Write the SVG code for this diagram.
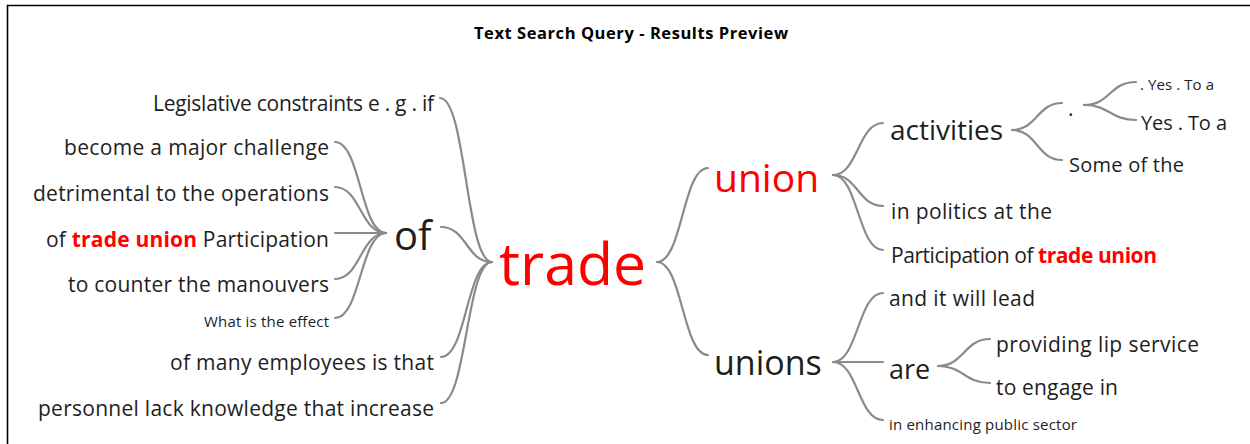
<svg xmlns="http://www.w3.org/2000/svg" width="1250" height="444" viewBox="0 0 1250 444">
  <style>
    text { font-family: "Open Sans", "Noto Sans", "Liberation Sans", sans-serif; fill: #1e1e1e; }
    .t { font-size: 21px; }
    .s { font-size: 15px; }
    .hl { fill: #ff0000; font-weight: bold; }
    .red { fill: #ff0000; }
    .title { font-size: 16.5px; font-weight: bold; fill: #000; }
    #connectors path { fill: none; stroke: #8a8a8a; stroke-width: 2.2; stroke-linecap: round; }
  </style>

  <rect x="0" y="0" width="1250" height="444" fill="#fff"/>
  <!-- frame: top and left edges -->
  <path d="M7.5,444 V5.5 H1250" fill="none" stroke="#000" stroke-width="1.6"/>

  <text class="title" x="631" y="39" text-anchor="middle" textLength="314">Text Search Query - Results Preview</text>

  <!-- connectors -->
  <g id="connectors">
    <!-- into "of" -->
    <path d="M335,142 C360.5,142 360.5,233 386,233"/>
    <path d="M335,187 C360.5,187 360.5,233 386,233"/>
    <path d="M335,233 L386,233"/>
    <path d="M335,279 C360.5,279 360.5,233 386,233"/>
    <path d="M335,318 C360.5,318 360.5,233 386,233"/>
    <!-- into "trade" (left) -->
    <path d="M440,98 C466,98 466,262 492,262"/>
    <path d="M441,227 C466.5,227 466.5,262 492,262"/>
    <path d="M441,357 C466.5,357 466.5,262 492,262"/>
    <path d="M441,403 C466.5,403 466.5,262 492,262"/>
    <!-- out of "trade" (right) -->
    <path d="M657,262 C682.5,262 682.5,168 708,168"/>
    <path d="M657,262 C682.5,262 682.5,355 708,355"/>
    <!-- union -->
    <path d="M833,175 C858,175 858,123 883,123"/>
    <path d="M833,175 C858,175 858,206 883,206"/>
    <path d="M833,175 C858,175 858,250 883,250"/>
    <!-- activities -->
    <path d="M1012,130 C1037,130 1037,103 1062,103"/>
    <path d="M1012,130 C1037,130 1037,160 1062,160"/>
    <!-- "." -->
    <path d="M1084,105 C1110,105 1110,82 1136,82"/>
    <path d="M1084,105 C1110,105 1110,120 1136,120"/>
    <!-- unions -->
    <path d="M833,362 C858,362 858,293 883,293"/>
    <path d="M833,362 L883,362"/>
    <path d="M833,362 C858,362 858,420 883,420"/>
    <!-- are -->
    <path d="M938,366 C964,366 964,339 990,339"/>
    <path d="M938,366 C964,366 964,383 990,383"/>
  </g>

  <!-- root -->
  <g id="node-trade">
    <text class="red" x="499" y="285" font-size="59">trade</text>
  </g>

  <!-- left side -->
  <g id="node-legislative">
    <text class="t" x="434" y="111" text-anchor="end" textLength="281">Legislative constraints e . g . if</text>
  </g>
  <g id="node-of">
    <text x="394" y="250" font-size="40">of</text>
  </g>
  <g id="node-become">
    <text class="t" x="329" y="155" text-anchor="end" textLength="265">become a major challenge</text>
  </g>
  <g id="node-detrimental">
    <text class="t" x="329" y="201" text-anchor="end" textLength="296">detrimental to the operations</text>
  </g>
  <g id="node-participation-left">
    <text class="t" x="329" y="247" text-anchor="end" textLength="283">of <tspan class="hl">trade union</tspan> Participation</text>
  </g>
  <g id="node-counter">
    <text class="t" x="329" y="292" text-anchor="end" textLength="261">to counter the manouvers</text>
  </g>
  <g id="node-effect">
    <text class="s" x="329" y="327" text-anchor="end" textLength="125">What is the effect</text>
  </g>
  <g id="node-employees">
    <text class="t" x="434" y="370" text-anchor="end" textLength="264">of many employees is that</text>
  </g>
  <g id="node-personnel">
    <text class="t" x="434" y="416" text-anchor="end" textLength="396">personnel lack knowledge that increase</text>
  </g>

  <!-- right side -->
  <g id="node-union">
    <text class="red" x="714" y="192" font-size="39">union</text>
  </g>
  <g id="node-activities">
    <text x="890" y="140" font-size="28">activities</text>
  </g>
  <g id="node-dot">
    <text class="t" x="1068" y="116">.</text>
  </g>
  <g id="node-yes-small">
    <text class="s" x="1140" y="90" textLength="74">. Yes . To a</text>
  </g>
  <g id="node-yes">
    <text x="1141" y="130" font-size="20" textLength="86">Yes . To a</text>
  </g>
  <g id="node-some">
    <text x="1069" y="172" font-size="20" textLength="115">Some of the</text>
  </g>
  <g id="node-politics">
    <text class="t" x="891" y="219" textLength="161">in politics at the</text>
  </g>
  <g id="node-participation-right">
    <text class="t" x="891" y="263" textLength="266">Participation of <tspan class="hl">trade union</tspan></text>
  </g>
  <g id="node-unions">
    <text x="714" y="375" font-size="34">unions</text>
  </g>
  <g id="node-lead">
    <text class="t" x="889" y="306" textLength="146">and it will lead</text>
  </g>
  <g id="node-are">
    <text x="889" y="379" font-size="27">are</text>
  </g>
  <g id="node-lip">
    <text class="t" x="996" y="352" textLength="203">providing lip service</text>
  </g>
  <g id="node-engage">
    <text class="t" x="996" y="395" textLength="122">to engage in</text>
  </g>
  <g id="node-enhancing">
    <text class="s" x="889" y="430" textLength="188">in enhancing public sector</text>
  </g>
</svg>
